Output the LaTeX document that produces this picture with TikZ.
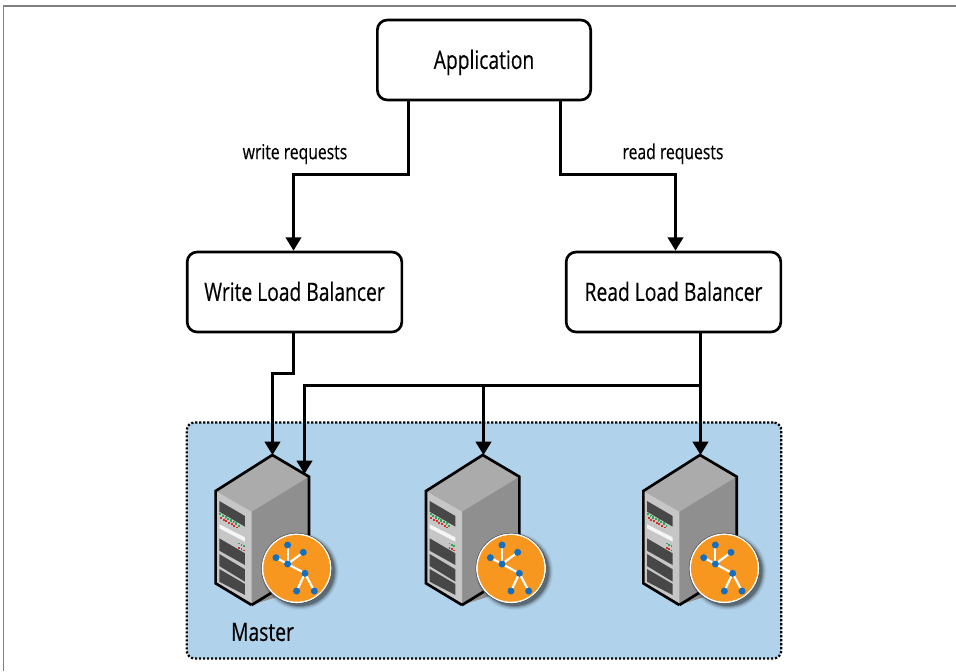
\documentclass[tikz,border=0pt]{standalone}
\usepackage{fontspec}
\setmainfont[FakeStretch=0.76,FakeBold=0.35]{Open Sans}
\usetikzlibrary{arrows.meta,positioning}
\definecolor{clusterblue}{HTML}{B0D2EA}
\definecolor{orangehub}{HTML}{F7971F}
\definecolor{bluedot}{HTML}{1470BE}
\definecolor{ledred}{HTML}{D0312D}
\definecolor{ledgreen}{HTML}{2FA652}
\definecolor{srvtop}{HTML}{ABABAB}
\definecolor{srvright}{HTML}{8F8F8F}
\definecolor{srvfront}{HTML}{C6C6C6}
\definecolor{srvpanel}{HTML}{474747}
\tikzset{
  x=0.75pt,y=-0.75pt,
  boxnode/.style={draw=black,line width=2pt,rounded corners=7.5pt,fill=white,inner sep=0pt,text height=13.4pt,text depth=0pt,font=\fontsize{19}{22}\selectfont},
  conn/.style={draw=black,line width=2.2pt,-{Triangle[length=10pt,width=11.5pt]}},
  lbl/.style={inner sep=0pt,text height=10.8pt,text depth=0pt,font=\fontsize{15.5}{18}\selectfont},
  link/.style={draw=white,line width=1.6pt},
  pics/server/.style={code={
    \begin{scope}[x=0.25pt,y=-0.25pt,xshift=-61.75pt,yshift=18.75pt]
      \fill[srvright] (247,75)--(357,140)--(357,470)--(185,525)--(77,460)--(77,183)--cycle;
      \fill[srvtop] (247,75)--(357,140)--(185,245)--(77,183)--cycle;
      \fill[srvfront] (77,183)--(185,245)--(185,525)--(77,460)--cycle;
      \fill[srvpanel] (88,213)--(165,258)--(165,290)--(88,245)--cycle;
      \fill[srvpanel] (88,325)--(165,370)--(165,405)--(88,362)--cycle;
      \fill[srvpanel] (88,372)--(165,418)--(165,455)--(88,408)--cycle;
      \fill[srvpanel] (88,417)--(165,462)--(165,495)--(88,455)--cycle;
      \fill[white!92!gray] (88,283)--(165,322)--(165,335)--(88,295)--cycle;
      \foreach \i in {0,...,6}{
        \fill[ledgreen] (88+\i*8,249+\i*4.6) rectangle +(6,5);
        \fill[ledred] (90+\i*8,262+\i*4.6) rectangle +(6,5);
        \fill[ledgreen] (96+\i*8,258+\i*4.6) rectangle +(5,4);
      }
      \foreach \i in {0,1,2}{
        \fill[ledgreen] (145+\i*7,338+\i*4) rectangle +(5,5);
        \fill[ledred] (145+\i*7,351+\i*4) rectangle +(5,5);
      }
      \draw[black,line width=2pt,line join=miter] (185,525)--(77,460)--(77,183)--(247,75)--(357,140)--(357,330);
      \draw[black,line width=2pt] (185,525)--(250,485);
      \begin{scope}[shift={(#1,0)}]
      \foreach \r/\o in {116/0.05,113/0.07,110/0.10,107/0.16,104/0.22}{
        \fill[black,opacity=\o] (330,424) circle[radius=\r];
      }
      \fill[white] (320,415) circle[radius=105];
      \draw[black!70,line width=0.35pt] (320,415) circle[radius=105.5];
      \fill[orangehub] (320,415) circle[radius=100];
      \draw[link] (293,345)--(293,402);
      \draw[link] (340,367)--(293,402);
      \draw[link] (258,383)--(293,402);
      \draw[link] (293,402)--(345,430);
      \draw[link] (345,430)--(320,483);
      \draw[link] (345,430)--(373,483);
      \foreach \p in {(293,345),(340,367),(258,383),(293,402),(345,430),(320,483),(373,483)}{
        \fill[bluedot] \p circle[radius=10.5];
      }
      \end{scope}
    \end{scope}
  }}
}
\begin{document}
\begin{tikzpicture}
\useasboundingbox (0,0) rectangle (956,671);
\fill[white] (0,0) rectangle (956,671);
\coordinate (frameA) at (3.5,671);
\coordinate (frameB) at (3.5,5.8);
\coordinate (frameC) at (956,5.8);
\draw[black!50,line width=1.4pt] (frameA)--(frameB)--(frameC);
\node[draw=black,line width=1.7pt,dash pattern=on 1.6pt off 1.4pt,fill=clusterblue,rounded corners=6pt,
  minimum width=446pt,minimum height=177pt,inner sep=0pt] (cluster) at (484,540.5) {};
\node[boxnode,minimum width=160pt,minimum height=60pt] (app) at (484,60) {Application};
\node[boxnode,minimum width=161pt,minimum height=60pt] (wlb) at (294.5,292) {Write Load Balancer};
\node[boxnode,minimum width=161pt,minimum height=60pt] (rlb) at (673.5,292) {Read Load Balancer};
\pic at (272.3,455) {server=0};
\pic at (482.7,455) {server=12};
\pic at (700,455) {server=0};
\coordinate (s1) at (272.5,455);
\coordinate (s1b) at (304.5,474);
\coordinate (s2) at (483.5,455);
\coordinate (s3) at (700.5,455);
\coordinate (ja) at (408.5,174.5);
\coordinate (jb) at (560.5,174.5);
\coordinate (wj) at (293.5,174.5);
\coordinate (rj) at (675.5,174.5);
\coordinate (wjog) at (293.5,373.5);
\coordinate (rbus) at (700.5,385.5);
\draw[conn] (app.south -| ja) -- (ja) -- (wj) -- (wlb.north -| wj);
\draw[conn] (app.south -| jb) -- (jb) -- (rj) -- (rlb.north -| rj);
\draw[conn] (wlb.south -| wjog) -- (wjog) -- (wjog -| s1) -- (s1);
\draw[conn] (rlb.south -| rbus) -- (s3);
\draw[conn] (rbus) -- (rbus -| s1b) -- (s1b);
\draw[conn] (rbus -| s2) -- (s2);
\node[lbl] (wl) at (295,152) {write requests};
\node[lbl] (rl) at (673,152) {read requests};
\node[inner sep=0pt,font=\fontsize{19}{22}\selectfont] (ml) at (262.5,632) {Master};
\end{tikzpicture}
\end{document}
